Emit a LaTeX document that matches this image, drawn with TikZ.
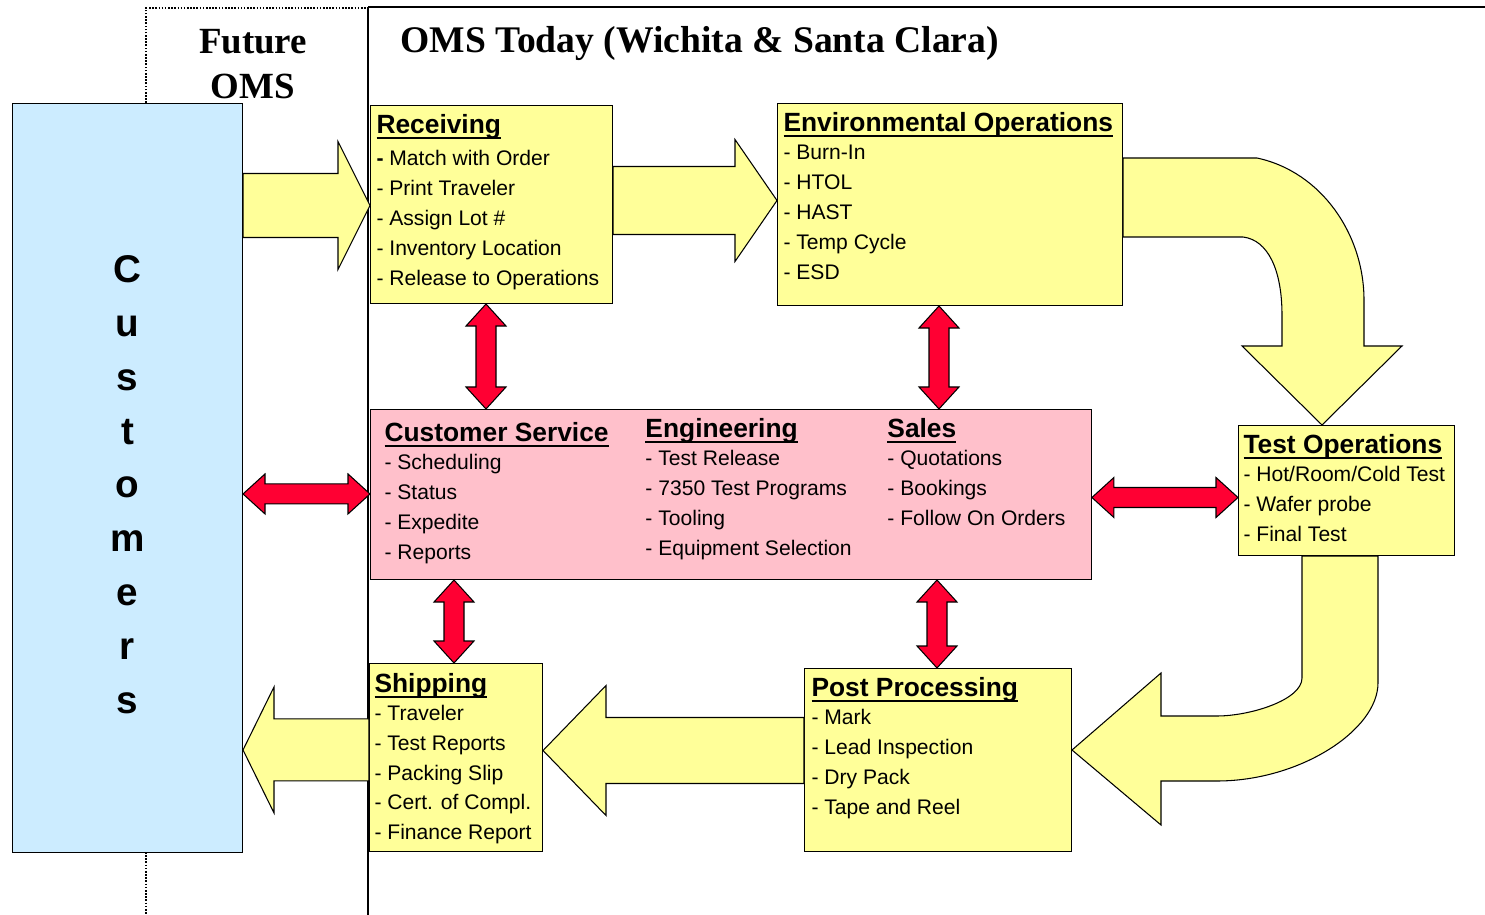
\documentclass[tikz,border=0pt]{standalone}
\usepackage{fontspec}
\setmainfont{Liberation Sans}
\newfontfamily\titlefont{Liberation Serif}
\usepackage{tikz}
\usetikzlibrary{calc}
\definecolor{boxyellow}{RGB}{255,255,153}
\definecolor{custblue}{RGB}{204,236,255}
\definecolor{deptpink}{RGB}{255,192,203}
\definecolor{linkred}{RGB}{255,0,51}
% underlined box heading
\newcommand{\hdr}[1]{\leavevmode{\fontsize{15}{17}\selectfont\bfseries\setbox0\hbox{#1}\rlap{\rule[-3.3pt]{\wd0}{1.3pt}}\box0}}
% yellow block arrow: tail, tip, y offset, shaft half, head half, head length
\newcommand{\hblock}[6]{%
	\draw[yarrow] ($(#2)+(0,#3)$) -- ++(#6,#5) -- ++(0,#4-#5)
	-- ($(#1 |- #2)+(0,#3+#4)$) -- ++(0,-2*#4)
	-- ($(#2)+(#6,#3-#4)$) -- ++(0,#4-#5) -- cycle;}
% red double arrows
\newcommand{\vbiarrow}[3]{%
	\draw[biarrow] ($(#1)+(#3,0)$) -- ++(20,22) -- ++(-10,0)
	-- ($(#1 |- #2)+(#3,0)+(10,-22)$) -- ++(10,0) -- ($(#1 |- #2)+(#3,0)$)
	-- ++(-20,-22) -- ++(10,0) -- ($(#1)+(#3,0)+(-10,22)$) -- ++(-10,0) -- cycle;}
\newcommand{\hbiarrow}[3]{%
	\draw[biarrow] ($(#1)+(0,#3)$) -- ++(22,-20) -- ++(0,10)
	-- ($(#1 -| #2)+(0,#3)+(-22,-10)$) -- ++(0,-10) -- ($(#1 -| #2)+(0,#3)$)
	-- ++(-22,20) -- ++(0,-10) -- ($(#1)+(0,#3)+(22,10)$) -- ++(0,10) -- cycle;}
\tikzstyle{opsbox} = [draw, fill=boxyellow, line width=0.6pt, anchor=north west, inner xsep=0.12cm, inner ysep=0.18cm, font=\fontsize{12}{17}\selectfont]
\tikzstyle{deptbox} = [opsbox, fill=deptpink, inner xsep=0.28cm]
\tikzstyle{custbox} = [draw, fill=custblue, line width=0.6pt, anchor=north west, inner sep=0pt, minimum width=4.6cm, minimum height=14.98cm, align=center, font=\fontsize{22}{30.6}\selectfont\bfseries]
\tikzstyle{titletext} = [inner sep=0pt, font=\titlefont\bfseries\fontsize{21}{25.5}\selectfont]
\tikzstyle{yarrow} = [draw, fill=boxyellow, line width=0.6pt, line join=miter]
\tikzstyle{biarrow} = [draw, fill=linkred, line width=0.6pt, line join=miter]
\tikzstyle{sepdot} = [line width=0.9pt, dash pattern=on 0.9pt off 0.9pt]

\begin{document}
\begin{tikzpicture}[x=0.02cm, y=-0.02cm]
	\useasboundingbox (0,0) rectangle (1485,915);
	% separators
	\draw[sepdot] (146,103) -- (146,8) -- (368,8);
	\draw[sepdot] (146,852) -- (146,915);
	\draw[line width=0.9pt] (368,915) -- (368,7);
	\draw[line width=1.5pt] (368,7) -- (1485,7);
	\node[titletext, align=center] (future) at (253,64) {Future\\OMS};
	\node[titletext, anchor=base west, font=\titlefont\bfseries\fontsize{21.4}{25.5}\selectfont] (today) at (400,53) {OMS Today (Wichita \& Santa Clara)};
	
	\node[custbox] (cust) at (12,103) {\rule{0pt}{23pt}C\\u\\s\\t\\o\\m\\e\\r\\s};
	\node[opsbox] (rcv) at (370,105) {%
		\begin{minipage}[t][3.60cm][t]{4.60cm}
			\hdr{Receiving}\\[1.4pt]
			\textbf{-} Match with Order\\
			- Print Traveler\\
			- Assign Lot \#\\
			- Inventory Location\\
			- Release to Operations
		\end{minipage}};
	\node[opsbox] (env) at (777,103) {%
		\begin{minipage}[t][3.68cm][t]{6.66cm}
			\hdr{Environmental Operations}\\[-1pt]
			- Burn-In\\
			- HTOL\\
			- HAST\\
			- Temp Cycle\\
			- ESD
		\end{minipage}};
	\node[deptbox] (cs) at (370,409) {%
		\begin{minipage}[t][3.04cm][t]{13.86cm}
			\raisebox{-0.08cm}{\begin{minipage}[t]{5.22cm}
				\hdr{Customer Service}\\[-1pt]
				- Scheduling\\
				- Status\\
				- Expedite\\
				- Reports
			\end{minipage}}%
			\begin{minipage}[t]{4.84cm}
				\hdr{Engineering}\\[-1pt]
				- Test Release\\
				- 7350 Test Programs\\
				- Tooling\\
				- Equipment Selection
			\end{minipage}%
			\begin{minipage}[t]{3.80cm}
				\hdr{Sales}\\[-1pt]
				- Quotations\\
				- Bookings\\
				- Follow On Orders
			\end{minipage}
		\end{minipage}};
	\node[opsbox, inner xsep=0.1cm] (tst) at (1238,425) {%
		\begin{minipage}[t][2.24cm][t]{4.12cm}
			\hdr{Test Operations}\\[-1pt]
			- Hot/Room/Cold Test\\
			- Wafer probe\\
			- Final Test
		\end{minipage}};
	\node[opsbox, inner xsep=0.14cm] (pp) at (804,668) {%
		\begin{minipage}[t][3.30cm][t]{5.06cm}
			\hdr{Post Processing}\\[-1pt]
			- Mark\\
			- Lead Inspection\\
			- Dry Pack\\
			- Tape and Reel
		\end{minipage}};
	\node[opsbox, inner xsep=0.1cm, inner ysep=0.2cm] (shp) at (369,663) {%
		\begin{minipage}[t][3.36cm][t]{3.26cm}
			\hdr{Shipping}\\[-1.2pt]
			- Traveler\\
			- Test Reports\\
			- Packing Slip\\
			- Cert. of Compl.\\
			- Finance Report
		\end{minipage}};
	
	% flow arrows
	\hblock{cust.east}{rcv.west}{1}{32}{64}{-32}
	\hblock{rcv.east}{env.west}{-4}{34}{61}{-42}
	\draw[yarrow] ($(env.north east)+(0,55)$) -- (1257,158)
		.. controls (1322,172) and (1364,235) .. (1364,300) -- (1364,346) -- (1402,346)
		-- ($(tst.north west)+(84,0)$) -- (1242,346) -- (1282,346) -- (1282,315)
		.. controls (1282,270) and (1268,240) .. (1243,237) -- ($(env.north east)+(0,134)$) -- cycle;
	\draw[yarrow] ($(tst.south west)+(64,0)$) -- (1302,678)
		.. controls (1302,700) and (1250,716) .. (1217,716) -- (1161,716) -- (1161,673)
		-- ($(pp.east)+(0,-10)$) -- (1161,825) -- (1161,781) -- (1217,781)
		.. controls (1300,781) and (1378,730) .. (1378,683) -- ($(tst.south west)+(140,0)$) -- cycle;
	\hblock{pp.west}{shp.east}{-7}{33}{65}{63}
	\hblock{shp.west}{cust.east}{272}{31}{63}{31}
	
	% links to the service desk
	\vbiarrow{rcv.south west}{cs.north}{116}
	\vbiarrow{env.south west}{cs.north}{162}
	\vbiarrow{cs.south west}{shp.north}{84}
	\vbiarrow{cs.south west}{pp.north}{567}
	\hbiarrow{cust.east}{cs.west}{16}
	\hbiarrow{cs.east}{tst.west}{3}
\end{tikzpicture}
\end{document}
